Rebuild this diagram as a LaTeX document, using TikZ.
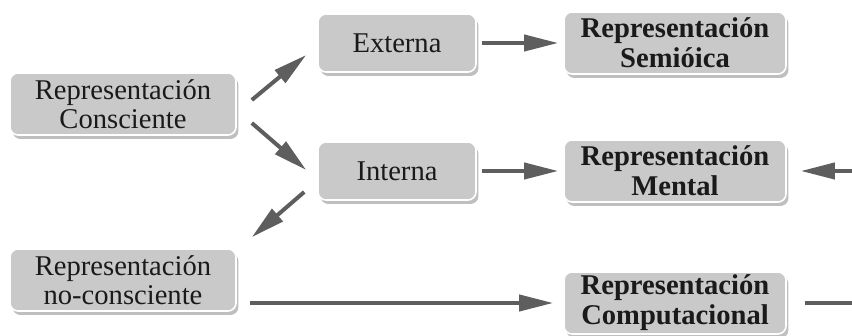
\documentclass[tikz,border=0pt]{standalone}
\usepackage{fontspec}
\setmainfont{Liberation Serif}
\usetikzlibrary{positioning}
\usetikzlibrary{shadows}
\usetikzlibrary{arrows.meta}
\usepackage{xcolor}

\definecolor{boxgray}{HTML}{C9C9C9}
\definecolor{arrowgray}{HTML}{5E5E5E}
\definecolor{textgray}{HTML}{1A1A1A}

\tikzset{
  box/.style={rectangle, rounded corners=4pt, fill=boxgray, draw=white, line width=0.8pt,
    minimum width=113pt, minimum height=31pt, align=center, inner sep=1pt, text=textgray,
    font=\fontsize{14.3}{14.5}\selectfont,
    drop shadow={shadow xshift=1.2pt, shadow yshift=-2pt, opacity=0.5}},
  small box/.style={box, minimum width=79pt, minimum height=29pt},
  bold box/.style={box, minimum width=111pt, font=\fontsize{14.3}{15}\selectfont\bfseries},
  arr/.style={-{Triangle[length=17pt,width=8pt]}, line width=2pt, draw=arrowgray}
}

\begin{document}
\begin{tikzpicture}[node distance=2cm, on grid]
    \useasboundingbox (0,0) rectangle (426pt,-168pt);
    % left column, then the two rows of the middle and right columns
    \node[box] (cons) at (61.5pt,-52pt) {Representación\\Consciente};
    \node[small box] (ext) [above right=30.5pt and 137pt of cons] {Externa};
    \node[bold box] (sem) [right=139pt of ext] {Representación\\Semióica};
    \node[small box] (int) [below=64pt of ext] {Interna};
    \node[bold box] (men) [right=139pt of int] {Representación\\Mental};
    \node[box] (nocons) [below=88pt of cons] {Representación\\no-consciente};
    \node[bold box] (comp) [below=66pt of men] {Representación\\Computacional};
    \coordinate (rt) at (426.8pt,0);

    \draw[arr] ([shift={(7.5pt,2pt)}]cons.east) -- ([shift={(-5.5pt,-6pt)}]ext.west);
    \draw[arr] ([shift={(7.5pt,-9.5pt)}]cons.east) -- ([shift={(-5.5pt,0.5pt)}]int.west);
    \draw[arr] ([shift={(-6.5pt,-10.5pt)}]int.west) -- ([shift={(7.5pt,5.5pt)}]nocons.north east);
    \draw[arr, shorten <=2.5pt, shorten >=2.5pt] (ext) -- (sem);
    \draw[arr, shorten <=2.5pt, shorten >=2.5pt] (int) -- (men);
    \draw[arr, shorten <=6.5pt, shorten >=5pt] (nocons.east |- comp) -- (comp.west);
    % back from the computational one to the mental one, round the right edge
    \draw[arr] ([xshift=9pt]comp.east) -- (comp -| rt) -- (men -| rt) -- ([xshift=7pt]men.east);
\end{tikzpicture}
\end{document}
